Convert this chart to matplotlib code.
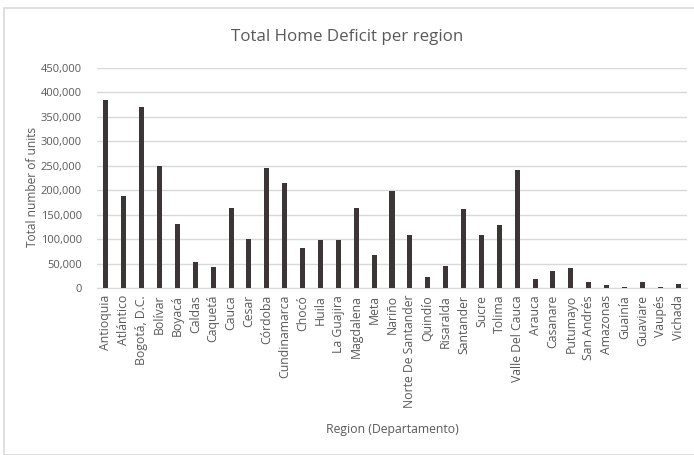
import matplotlib.pyplot as plt
from matplotlib.patches import Rectangle
from matplotlib.ticker import FuncFormatter

regions = ["Antioquia", "Atlántico", "Bogotá, D.C.", "Bolívar", "Boyacá", "Caldas",
           "Caquetá", "Cauca", "Cesar", "Córdoba", "Cundinamarca", "Chocó", "Huila",
           "La Guajira", "Magdalena", "Meta", "Nariño", "Norte De Santander", "Quindío",
           "Risaralda", "Santander", "Sucre", "Tolima", "Valle Del Cauca", "Arauca",
           "Casanare", "Putumayo", "San Andrés", "Amazonas", "Guainía", "Guaviare",
           "Vaupés", "Vichada"]
deficit = [385000, 189000, 370000, 250000, 131000, 54000, 43000, 164000, 101000,
           245000, 215000, 81000, 98000, 98000, 164000, 68000, 198000, 109000, 22000,
           45000, 162000, 108000, 128000, 242000, 18000, 34000, 40000, 12000, 6000,
           2000, 12000, 2000, 9000]

plt.rcParams['font.family'] = ['Open Sans', 'DejaVu Sans']
txt = '#595959'

fig = plt.figure(figsize=(6.94, 4.55), dpi=100)
ax = fig.add_axes([97 / 694, 1 - 288 / 455, 590 / 694, 220 / 455])

# chart border
fig.patches.append(Rectangle((4 / 694, 0), 1.0, 447 / 455, transform=fig.transFigure,
                             fill=False, edgecolor='#d9d9d9', linewidth=1.2))

x = range(len(regions))
ax.bar(x, deficit, width=0.28, color='#3b3536', zorder=3)

ax.set_ylim(0, 450000)
ax.set_xlim(-0.5, len(regions) - 0.5)
ax.set_yticks(range(0, 450001, 50000))
ax.yaxis.set_major_formatter(FuncFormatter(lambda v, p: f"{int(v):,}"))
ax.grid(axis='y', color='#d9d9d9', linewidth=1, zorder=0)
for s in ['top', 'right', 'left']:
    ax.spines[s].set_visible(False)
ax.spines['bottom'].set_color('#d9d9d9')
ax.tick_params(axis='both', length=0, colors=txt)
ax.tick_params(axis='y', pad=11, labelsize=8)
ax.tick_params(axis='x', pad=5, labelsize=8.8)
ax.set_xticks(list(x))
ax.set_xticklabels(regions, rotation=90)

fig.text(33 / 694, 1 - 187 / 455, "Total number of units", rotation=90,
         ha='center', va='center', color=txt, fontsize=8.6)
fig.text(392 / 694, 1 - 430 / 455, "Region (Departamento)", ha='center', va='center',
         color=txt, fontsize=8.8)
fig.text(0.5, 1 - 37 / 455, "Total Home Deficit per region", ha='center', va='center',
         color=txt, fontsize=12.2)

fig.savefig("out.png", dpi=100)
